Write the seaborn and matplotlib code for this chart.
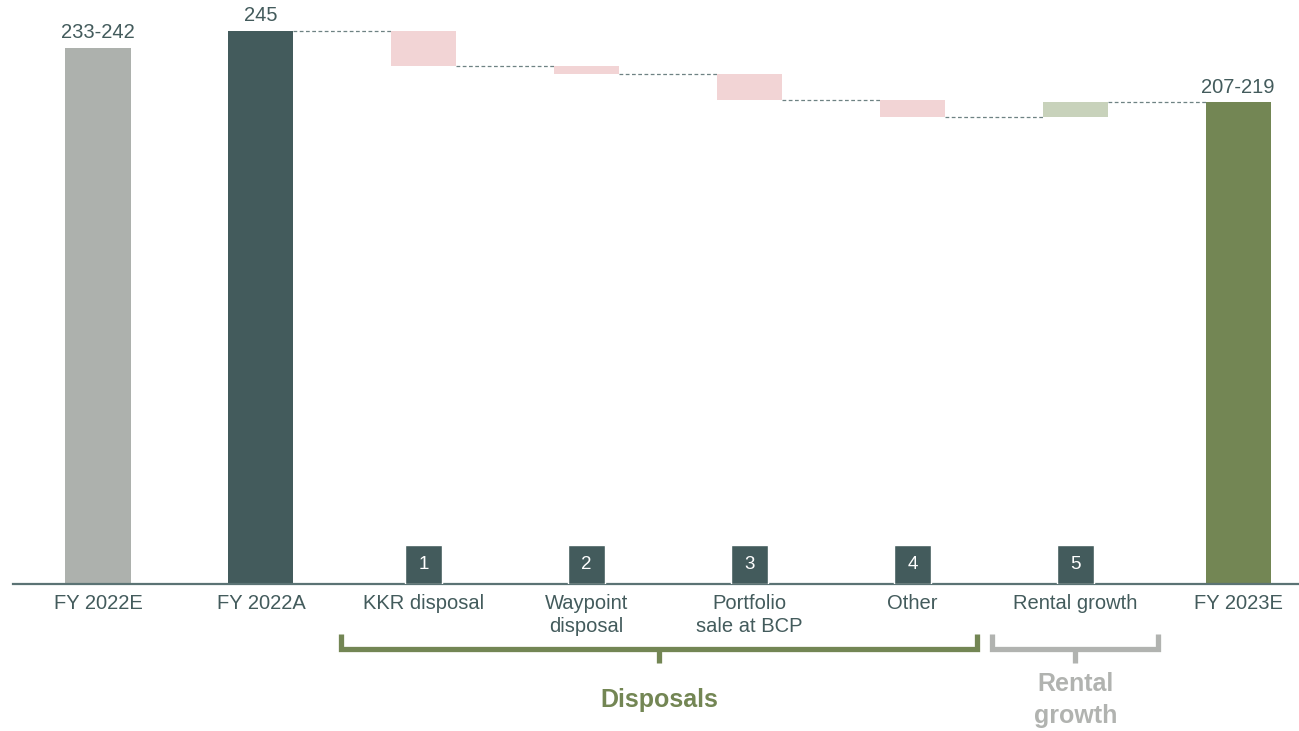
import matplotlib
matplotlib.use("Agg")
import matplotlib.pyplot as plt
import numpy as np
import pandas as pd
import seaborn as sns

# --- data -------------------------------------------------------------
categories = ["FY 2022E", "FY 2022A", "KKR disposal", "Waypoint\ndisposal",
              "Portfolio\nsale at BCP", "Other", "Rental growth", "FY 2023E"]
start_total = 245.0                       # FY 2022A
guidance_2022 = 237.5                     # mid-point of 233-242
steps = [-15.5, -3.5, -11.5, -7.5, 6.5]   # bridge items 1-5
end_total = 213.5                         # FY 2023E (mid-point of 207-219)
value_labels = ["233-242", "245", "", "", "", "", "", "207-219"]
step_numbers = ["1", "2", "3", "4", "5"]
group_names = ["Disposals", "Rental\ngrowth"]

# --- colours ----------------------------------------------------------
TEAL = "#435B5C"
GREY = "#ADB1AD"
PINK = "#F2D4D5"
LIGHT_GREEN = "#C8D2BB"
OLIVE = "#738654"
BRACKET_GREY = "#B1B3B0"

# --- waterfall geometry ----------------------------------------------
levels = np.concatenate([[start_total], start_total + np.cumsum(steps)])
bottoms = [0.0, 0.0]
heights = [guidance_2022, start_total]
for i, s in enumerate(steps):
    lo = min(levels[i], levels[i + 1])
    bottoms.append(lo)
    heights.append(abs(s))
bottoms.append(0.0)
heights.append(end_total)
colors = [GREY, TEAL] + [PINK if s < 0 else LIGHT_GREEN for s in steps] + [OLIVE]

df = pd.DataFrame({"category": categories, "height": heights, "bottom": bottoms})

sns.set_theme(style="white")
plt.rcParams["font.family"] = ["Liberation Sans", "DejaVu Sans"]

fig = plt.figure(figsize=(12.99, 7.31), dpi=100)
ax = fig.add_axes([13 / 1299, (731 - 584) / 731, 1 - 13 / 1299, 584 / 731])

BAR_W = 0.4
sns.barplot(data=df, x="category", y="height", bottom=df["bottom"].values,
            width=BAR_W, color=TEAL, saturation=1, ax=ax, zorder=2)
for patch, c in zip(ax.patches, colors):
    patch.set_facecolor(c)
    patch.set_edgecolor("none")

# numbered markers at the foot of the bridge items
n_first = 2
BOX_H = 17.3
for k, num in enumerate(step_numbers):
    x = n_first + k
    ax.bar(x, BOX_H, width=0.227, color=TEAL, zorder=3)
    ax.text(x, BOX_H / 2, num, color="white", ha="center", va="center",
            fontsize=13.5, zorder=4)

# dashed connectors between consecutive bars
for i in range(1, len(categories) - 1):
    lvl = levels[i - 1]
    ax.plot([i + BAR_W / 2, i + 1 - BAR_W / 2], [lvl, lvl], ls=(0, (3, 2)),
            color="#6E8283", lw=0.9, zorder=1)

# value labels above totals
for i, lab in enumerate(value_labels):
    if lab:
        ax.annotate(lab, (i, bottoms[i] + heights[i]), xytext=(0, 4),
                    textcoords="offset points", ha="center", va="bottom",
                    fontsize=14.5, color=TEAL)

# axes styling
ax.set_xlim(-0.522, 7.374)
ax.set_ylim(0, 584 / 2.2571)
ax.set_xlabel("")
ax.set_ylabel("")
ax.set_yticks([])
for side in ["top", "right", "left"]:
    ax.spines[side].set_visible(False)
ax.spines["bottom"].set_color("#5B7374")
ax.spines["bottom"].set_linewidth(1.6)
ax.tick_params(axis="x", length=0, pad=7, labelsize=14.5, labelcolor=TEAL)
for t in ax.get_xticklabels():
    t.set_linespacing(1.3)

# group brackets under the axis
def bracket(x0, x1, color, label):
    y_bar, y_end, y_tick = -28.6, -22.0, -35.0
    xm = (x0 + x1) / 2
    ax.plot([x0, x0, x1, x1], [y_end, y_bar, y_bar, y_end], color=color,
            lw=3.8, clip_on=False, solid_capstyle="butt", solid_joinstyle="miter")
    ax.plot([xm, xm], [y_bar, y_tick], color=color, lw=3.8, clip_on=False,
            solid_capstyle="butt")
    ax.text(xm, -51.5, label, ha="center", va="center", color=color,
            fontsize=18, fontweight="bold", linespacing=1.4, clip_on=False)

bracket(1.492, 5.397, OLIVE, group_names[0])
bracket(5.49, 6.51, BRACKET_GREY, group_names[1])

fig.savefig("out.png", dpi=100)
